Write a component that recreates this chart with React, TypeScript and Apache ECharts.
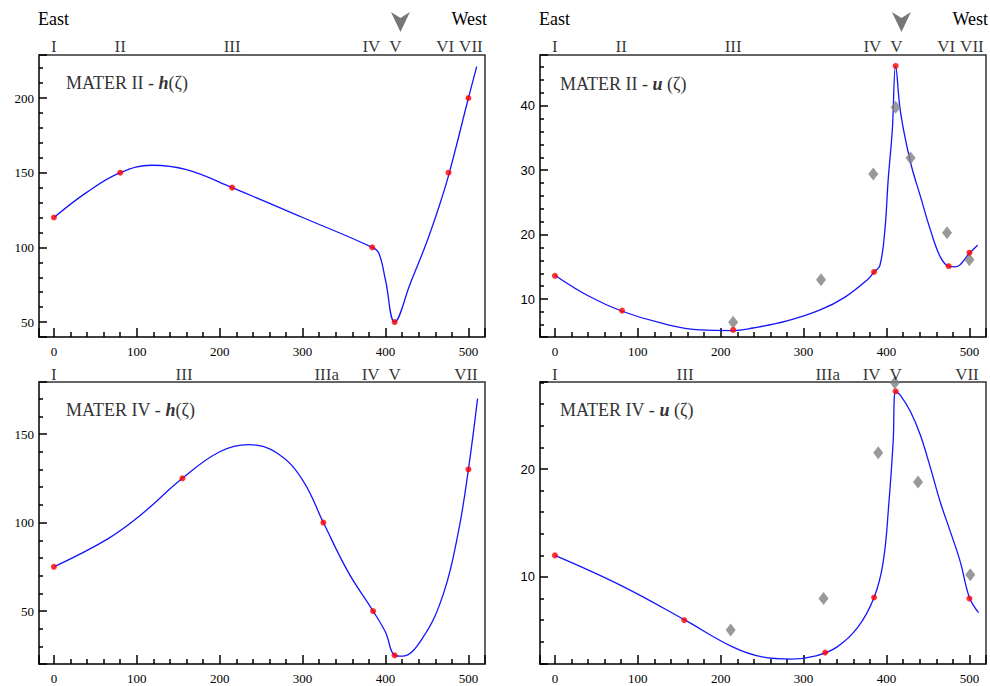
import React, { useEffect, useRef } from "react";
import * as echarts from "echarts";

const SERIF = '"Liberation Serif", "Times New Roman", serif';
const SANS = '"Liberation Sans", Arial, sans-serif';

const X_MIN = -18;
const X_MAX = 520;

type Pt = [number, number];

// Roman numeral station labels (name, position along ζ)
const topRomanNames = ["I", "II", "III", "IV", "V", "VI", "VII"];
const topRomanPos = [0, 80, 215, 383, 412, 472, 503];
const bottomRomanNames = ["I", "III", "IIIa", "IV", "V", "VII"];
const bottomRomanPos = [0, 157, 329, 382, 411, 497];

// MATER II - h(ζ)
const h2Red: Pt[] = [[0, 120], [80, 150], [215, 140], [384, 100], [411, 50], [476, 150], [500, 200]];
const h2Curve: Pt[] = [
  [0, 120], [40, 137], [80, 150], [118, 155], [160, 152], [215, 140], [300, 120], [384, 100],
  [392, 96], [400, 78], [411, 50], [430, 76], [450, 104], [465, 128], [477, 150], [500, 200], [510, 221],
];

// MATER II - u(ζ)
const u2Red: Pt[] = [[0, 13.6], [81, 8.2], [215, 5.2], [385, 14.2], [411, 46.2], [475, 15.1], [500, 17.2]];
const u2Gray: Pt[] = [[215, 6.4], [321, 13], [384, 29.4], [411, 39.8], [429, 31.9], [473, 20.3], [500, 16.1]];
const u2Curve: Pt[] = [
  [0, 13.7], [40, 10.5], [81, 8.1], [130, 6.2], [175, 5.2], [215, 5.1], [239, 5.5], [280, 6.6],
  [320, 8.3], [350, 10.3], [377, 13], [385, 14.2], [392, 15.2], [398, 20.7], [402, 28.5],
  [407, 36.3], [411, 46.2], [417, 38.9], [429, 31.2], [441, 25.9], [453, 20.7], [465, 16.5],
  [475, 15.1], [483, 15], [500, 17.1], [510, 18.4],
];

// MATER IV - h(ζ)
const h4Red: Pt[] = [[0, 75], [155, 125], [325, 100], [385, 50], [411, 25], [500, 130]];
const h4Curve: Pt[] = [
  [0, 75], [64, 90.5], [104, 104], [155, 125], [200, 140], [235, 144], [270, 139], [300, 124],
  [325, 100], [355, 72], [385, 50], [400, 38], [411, 25], [420, 24.5], [445, 35], [470, 60],
  [488, 95], [500, 130], [511, 170],
];

// MATER IV - u(ζ)
const u4Red: Pt[] = [[0, 12], [156, 6], [326, 3], [385, 8.1], [411, 27.2], [500, 8]];
const u4Gray: Pt[] = [[212, 5.1], [324, 8], [390, 21.5], [410, 28], [438, 18.8], [501, 10.2]];
const u4Curve: Pt[] = [
  [0, 12], [80, 9.2], [157, 6], [215, 3.5], [250, 2.6], [285, 2.4], [315, 2.7],
  [340, 3.5], [365, 5.3], [385, 8.1], [396, 11.4], [403, 17], [408, 22.5], [411, 27.2],
  [417, 26.8], [429, 25.3], [441, 23.1], [453, 20.1], [465, 16.9], [477, 14.2], [489, 11.4],
  [500, 8.1], [511, 6.7],
];

const arrowPos = 418;

interface Panel {
  left: number; top: number; yMin: number; yMax: number; split: number; yFont: string;
  curve: Pt[]; red: Pt[]; gray: Pt[] | null; romanNames: string[]; romanPos: number[];
  top2: boolean; titleName: string; titleVar: string; titleSep: string; titleLeft: number; titleTop: number;
}

const panels: Panel[] = [
  { left: 39, top: 55, yMin: 40, yMax: 228.8, split: 4, yFont: SERIF, curve: h2Curve, red: h2Red, gray: null,
    romanNames: topRomanNames, romanPos: topRomanPos, top2: true, titleName: "MATER II - ", titleVar: "h", titleSep: "",
    titleLeft: 66, titleTop: 74 },
  { left: 540, top: 55, yMin: 4.1, yMax: 47.9, split: 4, yFont: SANS, curve: u2Curve, red: u2Red, gray: u2Gray,
    romanNames: topRomanNames, romanPos: topRomanPos, top2: true, titleName: "MATER II - ", titleVar: "u", titleSep: " ",
    titleLeft: 560, titleTop: 75 },
  { left: 39, top: 382, yMin: 20.1, yMax: 179.4, split: 3, yFont: SERIF, curve: h4Curve, red: h4Red, gray: null,
    romanNames: bottomRomanNames, romanPos: bottomRomanPos, top2: false, titleName: "MATER IV - ", titleVar: "h", titleSep: "",
    titleLeft: 66, titleTop: 401 },
  { left: 540, top: 382, yMin: 1.94, yMax: 28.06, split: 3, yFont: SANS, curve: u4Curve, red: u4Red, gray: u4Gray,
    romanNames: bottomRomanNames, romanPos: bottomRomanPos, top2: false, titleName: "MATER IV - ", titleVar: "u", titleSep: " ",
    titleLeft: 560, titleTop: 401 },
];

function buildOption() {
  const grid: any[] = [];
  const xAxis: any[] = [];
  const yAxis: any[] = [];
  const series: any[] = [];
  const title: any[] = [];
  const graphic: any[] = [];

  panels.forEach((p, i) => {
    grid.push({
      left: p.left, top: p.top, width: 446, height: 282,
      show: true, borderColor: "#333", borderWidth: 1.5, backgroundColor: "transparent",
    });
    const tickStyle = { color: "#000", width: 1.5 };
    xAxis.push({
      type: "value", gridIndex: i, min: X_MIN, max: X_MAX, splitNumber: 5, position: "bottom",
      axisLine: { show: true, onZero: false, lineStyle: { color: "#333", width: 1.5 } },
      axisTick: { show: true, inside: true, length: 9, lineStyle: tickStyle },
      minorTick: { show: true, splitNumber: 5, length: 5, lineStyle: tickStyle },
      splitLine: { show: false },
      axisLabel: { show: true, margin: 8, fontFamily: SERIF, fontSize: 13, color: "#000", showMinLabel: false, showMaxLabel: false },
    });
    yAxis.push({
      type: "value", gridIndex: i, min: p.yMin, max: p.yMax, splitNumber: p.split, position: "left",
      axisLine: { show: true, onZero: false, lineStyle: { color: "#333", width: 1.5 } },
      axisTick: { show: true, inside: true, length: 8, lineStyle: tickStyle },
      minorTick: { show: true, splitNumber: 5, length: 4, lineStyle: tickStyle },
      splitLine: { show: false },
      axisLabel: { show: true, margin: 5, fontFamily: p.yFont, fontSize: 13, color: "#000", showMinLabel: false, showMaxLabel: false },
    });

    series.push({
      type: "line", xAxisIndex: i, yAxisIndex: i, data: p.curve, smooth: 0.4,
      showSymbol: false, symbol: "none", lineStyle: { color: "#1414ff", width: 1.3 }, z: 2, silent: true,
    });
    if (p.gray) {
      series.push({
        type: "scatter", xAxisIndex: i, yAxisIndex: i, data: p.gray, symbol: "diamond", symbolSize: [10, 13],
        itemStyle: { color: "#808080" }, z: 3, silent: true,
      });
    }
    series.push({
      type: "scatter", xAxisIndex: i, yAxisIndex: i, data: p.red, symbol: "circle", symbolSize: 6,
      itemStyle: { color: "#ff0000" }, z: 4, silent: true,
    });
    series.push({
      type: "scatter", xAxisIndex: i, yAxisIndex: i, clip: false, silent: true,
      data: p.romanNames.map((n, k) => ({ name: n, value: [p.romanPos[k], p.yMax] })),
      symbolSize: 1, itemStyle: { color: "rgba(0,0,0,0)" },
      label: { show: true, position: "top", distance: p.top2 ? 0 : -1, formatter: "{b}", fontFamily: SERIF, fontSize: 17, color: "#000" },
      z: 5,
    });
    if (p.top2) {
      series.push({
        type: "scatter", xAxisIndex: i, yAxisIndex: i, clip: false, silent: true,
        data: [[arrowPos, p.yMax]],
        symbol: "path://M0,0 L10,6 L20,0 L10,20 Z", symbolSize: [19, 20], symbolOffset: [0, -33],
        itemStyle: { color: "#555" }, z: 5,
      });
      graphic.push({
        type: "text", x: p.left - 1, y: 19,
        style: { text: "East", font: `18px ${SERIF}`, fill: "#000", align: "left", verticalAlign: "middle" },
      });
      graphic.push({
        type: "text", x: p.left + 448, y: 19,
        style: { text: "West", font: `18px ${SERIF}`, fill: "#000", align: "right", verticalAlign: "middle" },
      });
    }

    title.push({
      text: `{n|${p.titleName}}{v|${p.titleVar}}{n|${p.titleSep}(ζ)}`,
      left: p.titleLeft, top: p.titleTop, padding: 0,
      textStyle: {
        fontWeight: "normal", fontFamily: SERIF, fontSize: 18, color: "#333",
        rich: {
          n: { fontFamily: SERIF, fontSize: 18, color: "#333", fontWeight: "normal", fontStyle: "normal" },
          v: { fontFamily: SERIF, fontSize: 18, color: "#333", fontStyle: "italic", fontWeight: "bold" },
        },
      },
    });
  });

  return { animation: false, backgroundColor: "#fff", grid, xAxis, yAxis, series, title, graphic };
}

export default function App() {
  const ref = useRef<HTMLDivElement>(null);
  useEffect(() => {
    if (!ref.current) return;
    const chart = echarts.init(ref.current, undefined, { renderer: "svg" });
    chart.setOption(buildOption() as any);
    return () => chart.dispose();
  }, []);
  return (
    <div
      ref={ref}
      style={{ position: "absolute", left: 0, top: 0, width: 990, height: 686, background: "#fff" }}
    />
  );
}
